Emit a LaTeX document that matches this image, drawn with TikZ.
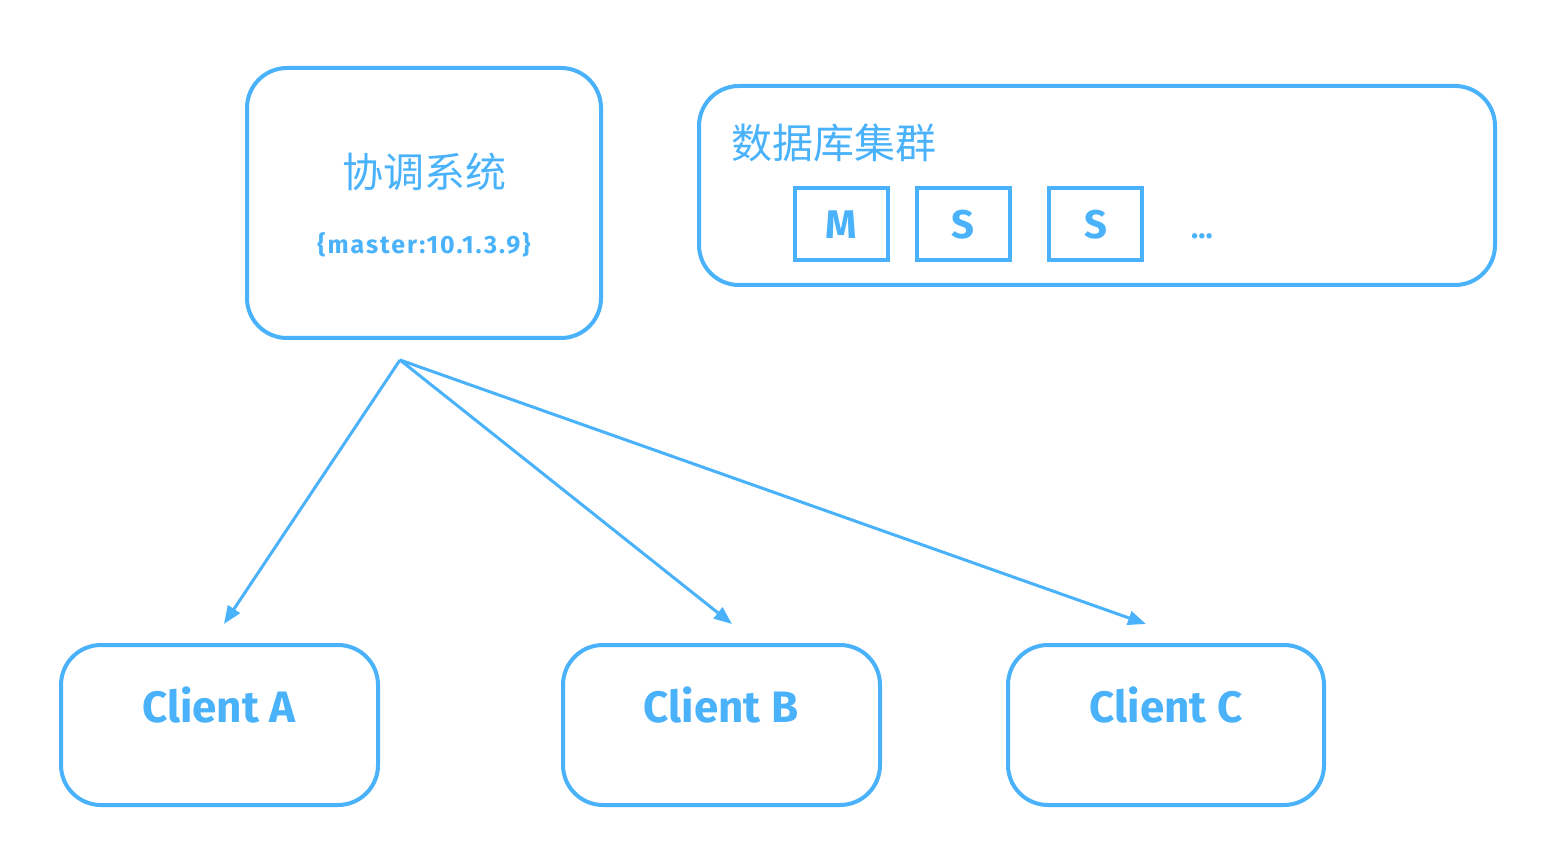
\documentclass[tikz,border=0pt]{standalone}
\usepackage{fontspec}
\setmainfont{Fira Sans}
\newfontfamily\cjk{Noto Sans CJK SC}
\newfontfamily\wide{Fira Sans}[LetterSpace=8]
\usetikzlibrary{arrows.meta,positioning}
\definecolor{sky}{RGB}{74,178,250}
\tikzset{
  rbox/.style={draw=sky, line width=4pt, rounded corners=40pt, inner sep=0pt},
  sqbox/.style={draw=sky, line width=4pt, inner sep=0pt, minimum width=93pt, minimum height=72pt,
     font=\fontsize{40}{40}\selectfont\bfseries, text=sky, text depth=-3pt},
  clienttext/.style={font=\fontsize{44}{44}\selectfont\bfseries, text=sky},
  cjktext/.style={font=\cjk\fontsize{41}{41}\selectfont, text=sky},
  conn/.style={draw=sky, line width=3pt, -{Triangle[length=18pt,width=14pt]}},
}
\begin{document}
\begin{tikzpicture}[x=1pt,y=-1pt]
\useasboundingbox (0,0) rectangle (1568,858);
% coordination system
\node[rbox, minimum width=354pt, minimum height=270pt] (coord) at (424,203) {};
\node[cjktext] (coordtitle) at (424,172) {协调系统};
\node[font=\wide\fontsize{25}{25}\selectfont\bfseries, text=sky] (master) at (424,245) {\{master:10.1.3.9\}};
% database cluster
\node[rbox, minimum width=796pt, minimum height=199pt] (db) at (1097,185.5) {};
\node[cjktext, anchor=west] (dbtitle) at (728,143) {数据库集群};
\node[sqbox] (m) at (841,224.5) {M};
\node[sqbox] (s1) at (963,224.5) {S};
\node[sqbox] (s2) at (1095.5,224.5) {S};
\node[font=\fontsize{30}{30}\selectfont\bfseries, text=sky] (dots) at (1202,236) {...};
% clients
\node[rbox, minimum width=317pt, minimum height=160pt] (ca) at (219.5,725) {};
\node[rbox, minimum width=317pt, minimum height=160pt] (cb) at (721.5,725) {};
\node[rbox, minimum width=316pt, minimum height=160pt] (cc) at (1166,725) {};
\node[clienttext] (tA) at (219,705) {Client A};
\node[clienttext] (tB) at (721,705) {Client B};
\node[clienttext] (tC) at (1166,705) {Client C};
% connectors
\coordinate (src) at (400,360);
\coordinate (ea) at (224,624);
\coordinate (eb) at (732,624);
\coordinate (ec) at (1146,624);
\draw[conn] (src) -- (ea);
\draw[conn] (src) -- (eb);
\draw[conn] (src) -- (ec);
\end{tikzpicture}
\end{document}
